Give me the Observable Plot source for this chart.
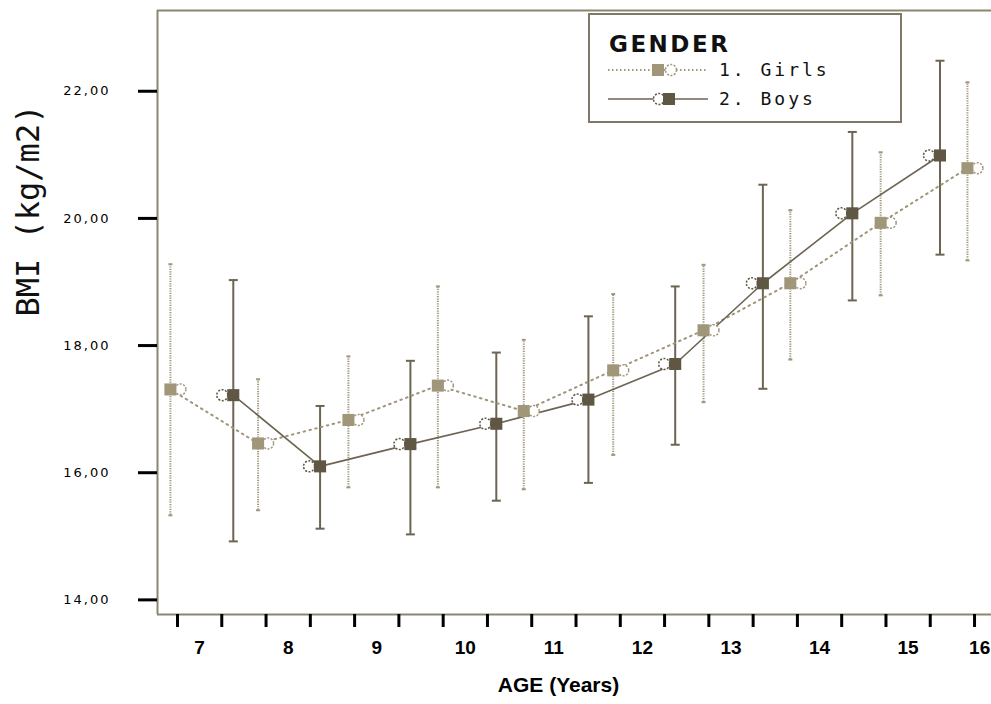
<!DOCTYPE html>
<html>
<head>
<meta charset="utf-8">
<script src="https://cdn.jsdelivr.net/npm/d3@7"></script>
<script src="https://cdn.jsdelivr.net/npm/@observablehq/plot@0.6"></script>
<style>
  html, body { margin: 0; padding: 0; background: #fff; }
  #chart { position: relative; width: 991px; height: 704px; }
  .chart g[aria-label="y-axis tick label"] text { letter-spacing: 2px; }
</style>
</head>
<body>
<div id="chart"></div>
<script>
// ---- data ----
const genders = ["1. Girls", "2. Boys"];

const girlsAge = [6.67, 7.66, 8.68, 9.69, 10.66, 11.67, 12.69, 13.67, 14.69, 15.67];
const girlsBMI = [17.31, 16.46, 16.83, 17.37, 16.97, 17.61, 18.24, 18.98, 19.93, 20.79];
const girlsLo  = [15.33, 15.41, 15.77, 15.77, 15.74, 16.28, 17.11, 17.78, 18.79, 19.34];
const girlsHi  = [19.28, 17.47, 17.83, 18.93, 18.09, 18.81, 19.27, 20.13, 21.04, 22.14];

const boysAge = [7.38, 8.36, 9.38, 10.35, 11.39, 12.37, 13.36, 14.37, 15.36];
const boysBMI = [17.22, 16.10, 16.45, 16.77, 17.15, 17.71, 18.98, 20.08, 20.99];
const boysLo  = [14.92, 15.12, 15.03, 15.56, 15.84, 16.44, 17.32, 18.71, 19.43];
const boysHi  = [19.03, 17.05, 17.76, 17.89, 18.46, 18.93, 20.53, 21.36, 22.48];

const xTickMarks = d3.range(19).map(i => 6.75 + 0.5 * i);
const xTickLabels = [7, 8, 9, 10, 11, 12, 13, 14, 15];
const xLastLabel = [16];
const yTicks = [14, 16, 18, 20, 22];

const xDomain = [6.5242, 15.9416];
const yDomain = [13.77, 23.27];

// ---- styles ----
const girlsColor = "#a0967a";
const boysColor = "#5f5643";
const boysLine = "#6d6452";
const frameColor = "#8c8573";
const narrow = "Liberation Sans Narrow, Arial Narrow, Liberation Sans, sans-serif";

const girls = girlsAge.map((a, i) => ({age: a, bmi: girlsBMI[i], lo: girlsLo[i], hi: girlsHi[i], g: genders[0]}));
const boys = boysAge.map((a, i) => ({age: a, bmi: boysBMI[i], lo: boysLo[i], hi: boysHi[i], g: genders[1]}));

const capSymbol = {
  draw(ctx, size) {
    const w = Math.sqrt(size / Math.PI);
    ctx.moveTo(-w, 0);
    ctx.lineTo(w, 0);
  }
};

const plot = Plot.plot({
  width: 991,
  height: 704,
  marginLeft: 157,
  marginRight: 0,
  marginTop: 10,
  marginBottom: 90,
  className: "chart",
  style: {fontFamily: "DejaVu Sans", background: "#fff", overflow: "hidden"},
  x: {domain: xDomain, axis: null},
  y: {domain: yDomain, axis: null},
  marks: [
    // frame lines
    Plot.ruleX([xDomain[0]], {stroke: frameColor, strokeWidth: 2}),
    Plot.ruleY([yDomain[0]], {stroke: frameColor, strokeWidth: 2}),
    Plot.ruleY([yDomain[1]], {stroke: frameColor, strokeWidth: 2}),
    // axes
    Plot.axisY(yTicks, {
      anchor: "left", label: null, tickSize: 19, tickPadding: 28, stroke: "black", strokeWidth: 3,
      tickFormat: d => d3.format(".2f")(d).replace(".", ","),
      fontSize: 13, fontFamily: "DejaVu Sans", fill: "#000"
    }),
    Plot.axisX(xTickMarks, {anchor: "bottom", label: null, tickSize: 13, stroke: "black", strokeWidth: 3, tickFormat: () => ""}),
    Plot.axisX(xTickLabels, {
      anchor: "bottom", label: null, tickSize: 0, tickPadding: 26,
      fontSize: 19, fontWeight: "bold", fontFamily: narrow, fill: "#000"
    }),
    Plot.axisX(xLastLabel, {
      anchor: "bottom", label: null, tickSize: 0, tickPadding: 26, dx: -17,
      fontSize: 19, fontWeight: "bold", fontFamily: narrow, fill: "#000"
    }),
    Plot.text(["AGE (Years)"], {
      frameAnchor: "bottom", dx: -16, dy: 77, fontSize: 21, fontWeight: "bold",
      fontFamily: narrow, fill: "#000"
    }),
    Plot.text(["BMI (kg/m2)"], {
      frameAnchor: "left", rotate: -90, dx: -129, dy: 4, fontSize: 32,
      fontFamily: "DejaVu Sans Mono, monospace", fill: "#111"
    }),
    // girls error bars (dotted)
    Plot.ruleX(girls, {x: "age", y1: "lo", y2: "hi", stroke: girlsColor, strokeWidth: 2, strokeDasharray: "1.2,1.2"}),
    Plot.dot(girls, {x: "age", y: "lo", symbol: capSymbol, r: 2, stroke: girlsColor, strokeWidth: 2, fill: "none"}),
    Plot.dot(girls, {x: "age", y: "hi", symbol: capSymbol, r: 2, stroke: girlsColor, strokeWidth: 2, fill: "none"}),
    // boys error bars (solid)
    Plot.ruleX(boys, {x: "age", y1: "lo", y2: "hi", stroke: boysLine, strokeWidth: 2}),
    Plot.dot(boys, {x: "age", y: "lo", symbol: capSymbol, r: 4.5, stroke: boysLine, strokeWidth: 2, fill: "none"}),
    Plot.dot(boys, {x: "age", y: "hi", symbol: capSymbol, r: 4.5, stroke: boysLine, strokeWidth: 2, fill: "none"}),
    // lines
    Plot.line(girls, {x: "age", y: "bmi", stroke: girlsColor, strokeWidth: 2, strokeDasharray: "1.6,4.4"}),
    Plot.line(boys, {x: "age", y: "bmi", stroke: boysLine, strokeWidth: 1.6}),
    // circles (dashed outline)
    Plot.dot(girls, {x: "age", y: "bmi", dx: 10, r: 5.5, fill: "white", stroke: girlsColor, strokeWidth: 1.5, strokeDasharray: "2,1.5"}),
    Plot.dot(boys, {x: "age", y: "bmi", dx: -11, r: 5.5, fill: "white", stroke: boysColor, strokeWidth: 1.5, strokeDasharray: "2,1.5"}),
    // squares
    Plot.dot(girls, {x: "age", y: "bmi", symbol: "square", r: 6.8, fill: girlsColor, stroke: "none"}),
    Plot.dot(boys, {x: "age", y: "bmi", symbol: "square", r: 6.8, fill: boysColor, stroke: "none"})
  ]
});

// ---- legend drawn inside the plot svg ----
const svg = d3.select(plot);
const lg = svg.append("g").attr("class", "legend").attr("text-anchor", "start");
lg.append("rect").attr("x", 589).attr("y", 14).attr("width", 312).attr("height", 108)
  .attr("fill", "white").attr("stroke", "#7f7866").attr("stroke-width", 2);
lg.append("text").attr("x", 609).attr("y", 52).attr("text-anchor", "start").text("GENDER")
  .attr("font-family", "DejaVu Sans").attr("font-weight", "bold").attr("font-size", 23)
  .attr("letter-spacing", 2.5).attr("fill", "#111");
const items = [
  {label: genders[0], y: 70, color: girlsColor, line: girlsColor, dash: "1.5,2.5", sq: 658, ci: 671},
  {label: genders[1], y: 99, color: boysColor, line: boysLine, dash: null, sq: 669, ci: 659}
];
items.forEach(it => {
  const l = lg.append("line").attr("x1", 608).attr("x2", 708).attr("y1", it.y).attr("y2", it.y)
    .attr("stroke", it.line).attr("stroke-width", it.dash ? 2 : 1.6);
  if (it.dash) l.attr("stroke-dasharray", it.dash);
  lg.append("circle").attr("cx", it.ci).attr("cy", it.y).attr("r", 5.5).attr("fill", "white")
    .attr("stroke", it.color).attr("stroke-width", 1.5).attr("stroke-dasharray", "2,1.5");
  lg.append("rect").attr("x", it.sq - 6).attr("y", it.y - 6).attr("width", 12).attr("height", 12).attr("fill", it.color);
  lg.append("text").attr("x", 719).attr("y", it.y + 6).attr("text-anchor", "start").text(it.label)
    .attr("font-family", "DejaVu Sans Mono, monospace").attr("font-size", 18)
    .attr("letter-spacing", 3).attr("fill", "#111");
});

document.getElementById("chart").appendChild(plot);
</script>
</body>
</html>
